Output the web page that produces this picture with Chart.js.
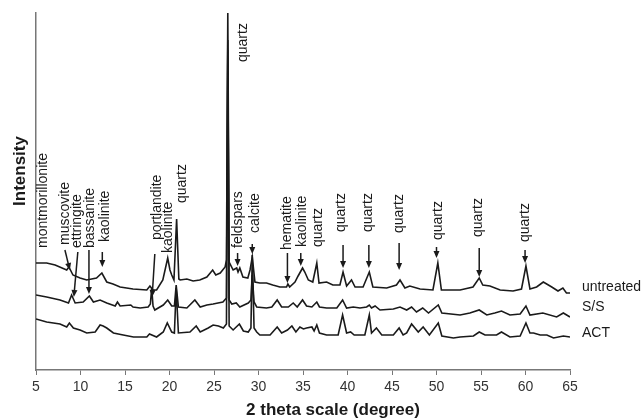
<!DOCTYPE html>
<html>
<head>
<meta charset="utf-8">
<script src="https://cdn.jsdelivr.net/npm/chart.js@4.4.1/dist/chart.umd.min.js"></script>
<style>
  html, body { margin: 0; padding: 0; background: #fff; }
  #wrap { width: 641px; height: 420px; }
</style>
</head>
<body>
<div id="wrap"><canvas id="xrdChart"></canvas></div>
<script>
// 2 theta (degree) and intensity (arbitrary units)
const untreatedAngle = [5.0, 6.2, 7.15, 8.45, 8.7, 9.15, 9.95, 10.7, 11.8, 12.4, 12.95, 13.65, 14.45, 15.9, 17.45, 17.8, 18.15, 18.55, 19.25, 19.55, 19.8, 20.05, 20.25, 20.5, 20.8, 21.05, 21.2, 21.95, 22.65, 23.4, 24.2, 24.85, 25.2, 25.7, 26.25, 26.4, 26.55, 26.7, 27.15, 27.55, 27.7, 27.9, 28.25, 28.8, 29.05, 29.3, 29.6, 30.15, 30.9, 31.6, 32.4, 33.15, 33.3, 33.5, 34.1, 34.45, 34.95, 35.2, 35.6, 36.1, 36.55, 36.8, 37.65, 38.35, 39.15, 39.5, 39.9, 40.45, 40.85, 41.75, 42.45, 42.85, 44.4, 45.5, 45.9, 46.45, 47.0, 48.15, 49.6, 50.15, 50.55, 52.65, 54.1, 54.8, 55.2, 56.0, 57.15, 58.6, 59.55, 60.05, 60.5, 61.25, 62.0, 62.95, 63.65, 64.2, 64.6, 65]
const untreatedIntensity = [107, 107, 105, 100, 103, 95, 92, 90, 92, 97, 88, 86, 83, 81, 80, 84, 80, 80, 90, 102, 112, 100, 95, 90, 151, 91, 90, 91, 89, 90, 93, 100, 95, 97, 103, 110, 357, 108, 100, 102, 98, 102, 93, 92, 100, 113, 88, 87, 87, 85, 83, 83, 86, 83, 88, 94, 102, 98, 90, 88, 107, 87, 88, 85, 85, 98, 84, 90, 83, 83, 98, 83, 82, 85, 90, 82, 84, 81, 80, 107, 80, 80, 83, 92, 85, 84, 80, 79, 81, 104, 81, 83, 88, 83, 79, 82, 77, 77]

const ssAngle = [5.0, 6.2, 7.7, 8.65, 9.0, 9.4, 10.3, 11.0, 11.45, 12.2, 12.95, 13.9, 14.15, 14.45, 15.65, 15.9, 16.7, 17.6, 17.85, 18.0, 18.15, 18.35, 19.3, 19.8, 20.25, 20.55, 20.75, 21.0, 21.95, 22.85, 23.45, 24.2, 24.9, 25.45, 26.0, 26.4, 26.55, 26.7, 27.0, 27.5, 27.9, 28.85, 29.15, 29.3, 29.5, 29.8, 30.9, 31.5, 32.1, 32.6, 33.35, 33.9, 34.35, 34.95, 35.4, 36.0, 36.55, 36.85, 37.65, 38.8, 39.45, 39.9, 40.65, 41.4, 42.15, 42.45, 42.7, 43.1, 43.65, 45.15, 45.9, 46.65, 47.2, 47.75, 48.45, 49.1, 50.2, 50.6, 52.65, 53.75, 54.8, 55.65, 56.55, 57.3, 58.25, 59.4, 60.05, 60.5, 61.95, 63.5, 64.25, 65]
const ssIntensity = [75, 73, 70, 67, 75, 67, 68, 74, 68, 70, 67, 64, 68, 64, 65, 63, 62, 63, 66, 82, 64, 60, 65, 70, 64, 64, 85, 63, 62, 70, 63, 65, 66, 67, 68, 72, 330, 70, 66, 67, 63, 67, 70, 95, 68, 63, 62, 63, 70, 63, 63, 67, 63, 70, 64, 63, 68, 63, 62, 62, 70, 62, 63, 62, 63, 65, 62, 64, 60, 61, 63, 60, 63, 58, 62, 57, 65, 57, 55, 57, 60, 55, 57, 59, 55, 56, 64, 55, 57, 53, 57, 53]

const actAngle = [5.0, 6.2, 7.7, 8.45, 8.75, 9.2, 9.95, 10.7, 11.65, 12.2, 12.55, 12.95, 13.7, 14.8, 15.95, 17.45, 17.75, 18.55, 19.3, 19.75, 20.25, 20.55, 20.75, 21.0, 22.3, 23.0, 23.45, 24.35, 24.9, 25.5, 26.05, 26.4, 26.55, 26.7, 27.15, 27.85, 28.3, 28.85, 29.15, 29.3, 29.5, 29.8, 30.15, 31.3, 32.1, 32.6, 33.25, 33.75, 34.2, 34.65, 35.05, 35.4, 36.0, 36.25, 36.55, 36.85, 37.65, 38.95, 39.45, 39.9, 40.35, 40.75, 41.95, 42.45, 42.7, 43.25, 43.85, 45.15, 45.8, 46.25, 46.65, 47.2, 47.95, 48.5, 49.2, 50.2, 50.6, 51.9, 52.65, 54.15, 54.8, 55.45, 56.75, 57.3, 58.25, 59.4, 60.05, 60.5, 60.9, 61.65, 62.4, 63.15, 64.25, 65]
const actIntensity = [51, 48, 46, 43, 47, 42, 40, 37, 38, 45, 44, 42, 37, 35, 33, 33, 36, 33, 38, 47, 38, 37, 82, 37, 38, 44, 38, 42, 45, 44, 42, 46, 320, 44, 40, 46, 39, 38, 42, 115, 42, 38, 35, 35, 43, 37, 40, 44, 38, 43, 41, 42, 43, 39, 45, 37, 35, 35, 55, 37, 38, 35, 35, 55, 37, 42, 35, 35, 42, 35, 37, 46, 38, 43, 35, 47, 34, 32, 33, 34, 38, 35, 35, 38, 33, 34, 47, 37, 37, 35, 35, 32, 34, 33]

const seriesNames = ['untreated', 'S/S', 'ACT']
const seriesLabelLevels = [83, 63, 37]

// phase labels: text centre angle, text foot level, arrow tail / tip
const peakNames = ['montmorillonite', 'muscovite', 'ettringite', 'bassanite', 'kaolinite', 'portlandite', 'kaolinite', 'quartz', 'quartz', 'feldspars', 'calcite', 'hematite', 'kaolinite', 'quartz', 'quartz', 'quartz', 'quartz', 'quartz', 'quartz', 'quartz']
const peakTextAngles = [5.8, 8.25, 9.6, 11.05, 12.75, 18.6, 19.85, 21.4, 28.25, 27.7, 29.6, 33.2, 34.9, 36.7, 39.25, 42.3, 45.8, 50.15, 54.65, 59.95]
const peakTextBases = [122, 125, 122, 122, 128, 130, 117, 167, 308, 122, 137, 120, 123, 123, 138, 138, 137, 130, 133, 128]
const arrowTailAngles = [null, 8.25, 9.7, 10.95, 12.45, 18.35, null, null, null, 27.65, 29.3, 33.25, 34.75, null, 39.5, 42.4, 45.8, 50.0, 54.8, 59.95]
const arrowTails = [null, 120, 118, 120, 118, 116, null, null, null, 117, 126, 117, 117, null, 125, 125, 127, 123, 122, 120]
const arrowTipAngles = [null, 8.8, 9.25, 10.95, 12.45, 18.05, null, null, null, 27.65, 29.3, 33.25, 34.75, null, 39.5, 42.4, 45.8, 50.0, 54.8, 59.95]
const arrowTips = [null, 100, 73, 76, 103, 73, null, null, null, 104, 116, 87, 104, null, 102, 102, 100, 112, 93, 107]

const toPoints = (xs, ys) => xs.map((x, i) => ({ x, y: ys[i] }))

const lineStyle = {
    borderColor: '#1a1a1a',
    borderWidth: 1.6,
    pointRadius: 0,
    tension: 0,
    fill: false
}

const drawArrow = (ctx, x1, y1, x2, y2) => {
    const ang = Math.atan2(y2 - y1, x2 - x1)
    const head = 7
    ctx.beginPath()
    ctx.moveTo(x1, y1)
    ctx.lineTo(x2 - Math.cos(ang) * head * 0.8, y2 - Math.sin(ang) * head * 0.8)
    ctx.stroke()
    ctx.beginPath()
    ctx.moveTo(x2, y2)
    ctx.lineTo(x2 - Math.cos(ang) * head - Math.sin(ang) * 3, y2 - Math.sin(ang) * head + Math.cos(ang) * 3)
    ctx.lineTo(x2 - Math.cos(ang) * head + Math.sin(ang) * 3, y2 - Math.sin(ang) * head - Math.cos(ang) * 3)
    ctx.closePath()
    ctx.fill()
}

const annotations = {
    id: 'annotations',
    afterDraw(chart) {
        const { ctx, chartArea, scales: { x, y } } = chart
        ctx.save()
        ctx.fillStyle = '#1a1a1a'
        ctx.strokeStyle = '#1a1a1a'
        ctx.lineWidth = 1.5
        ctx.font = '14px "Liberation Sans", Arial, sans-serif'

        peakNames.forEach((name, i) => {
            ctx.save()
            ctx.translate(x.getPixelForValue(peakTextAngles[i]), y.getPixelForValue(peakTextBases[i]))
            ctx.rotate(-Math.PI / 2)
            ctx.textAlign = 'left'
            ctx.textBaseline = 'middle'
            ctx.fillText(name, 0, 0)
            ctx.restore()
            if (arrowTips[i] !== null) {
                drawArrow(ctx,
                    x.getPixelForValue(arrowTailAngles[i]), y.getPixelForValue(arrowTails[i]),
                    x.getPixelForValue(arrowTipAngles[i]), y.getPixelForValue(arrowTips[i]))
            }
        })

        // series names at the right end
        ctx.textAlign = 'left'
        ctx.textBaseline = 'middle'
        seriesNames.forEach((name, i) => {
            ctx.fillText(name, chartArea.right + 12, y.getPixelForValue(seriesLabelLevels[i]))
        })

        // axis titles
        ctx.font = 'bold 17px "Liberation Sans", Arial, sans-serif'
        ctx.textAlign = 'center'
        ctx.fillText('2 theta scale (degree)', 333, 410)
        ctx.save()
        ctx.translate(20, 171)
        ctx.rotate(-Math.PI / 2)
        ctx.fillText('Intensity', 0, 0)
        ctx.restore()
        ctx.restore()
    }
}

const data = {
    datasets: [
        { label: seriesNames[0], data: toPoints(untreatedAngle, untreatedIntensity), ...lineStyle },
        { label: seriesNames[1], data: toPoints(ssAngle, ssIntensity), ...lineStyle },
        { label: seriesNames[2], data: toPoints(actAngle, actIntensity), ...lineStyle }
    ]
}

const options = {
    responsive: true,
    maintainAspectRatio: false,
    animation: false,
    layout: { padding: { top: 13, right: 71, bottom: 0, left: 0 } },
    plugins: {
        legend: { display: false },
        tooltip: { enabled: false }
    },
    scales: {
        x: {
            type: 'linear',
            min: 5,
            max: 65,
            ticks: {
                stepSize: 5,
                color: '#333',
                font: { size: 14, family: '"Liberation Sans", Arial, sans-serif' },
                padding: 4
            },
            grid: { drawOnChartArea: false, drawTicks: true, tickLength: 5, color: '#777' },
            border: { color: '#777', width: 1.5 },
            afterFit: axis => { axis.height = 50 }
        },
        y: {
            min: 0,
            max: 357,
            ticks: { display: false },
            grid: { display: false },
            border: { color: '#777', width: 1.5 },
            afterFit: axis => { axis.width = 36 }
        }
    }
}

new Chart('xrdChart', { type: 'line', data, options, plugins: [annotations] })
</script>
</body>
</html>
